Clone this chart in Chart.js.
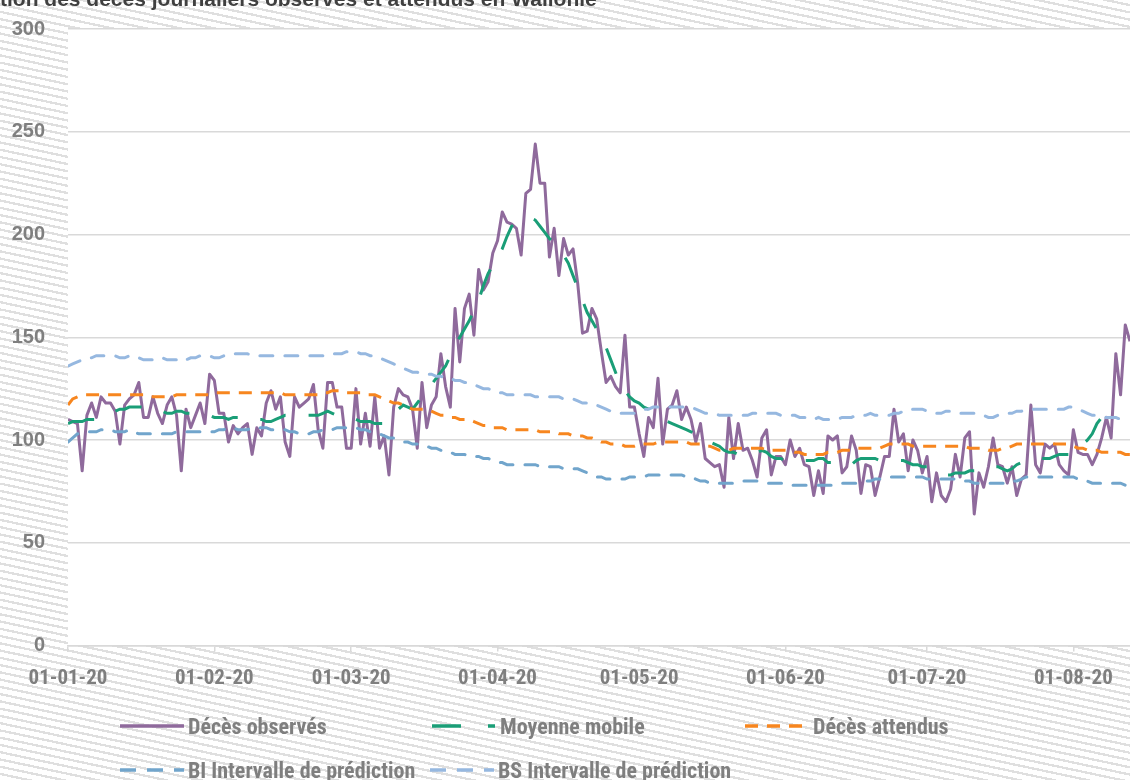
<!DOCTYPE html>
<html lang="fr">
<head>
<meta charset="utf-8">
<title>Décès journaliers observés et attendus en Wallonie</title>
<script src="https://cdn.jsdelivr.net/npm/chart.js@4.4.1/dist/chart.umd.min.js"></script>
<style>
  html, body { margin: 0; padding: 0; }
  body {
    width: 1130px; height: 780px; overflow: hidden; position: relative;
    background: repeating-linear-gradient(12deg, #fff 0px, #fff 4.8px, #dfdfdf 4.8px, #dfdfdf 7.1px);
  }
  #chart { position: absolute; left: 0; top: 0; }
  .title {
    position: absolute; left: 0; top: -13px; white-space: nowrap;
    font: bold 21px 'Liberation Sans', Arial, sans-serif; color: #404040;
  }
  .leg {
    position: absolute; display: flex; align-items: center; white-space: nowrap;
    font-family: Roboto, sans-serif; font-weight: bold; font-stretch: condensed; font-size: 22px;
    color: #7f7f7f;
  }
  .leg svg { margin-right: 4px; }
</style>
</head>
<body>
<canvas id="chart" width="1130" height="780"></canvas>
<div class="title">tion des décès journaliers observés et attendus en Wallonie</div>
<div id="legend"></div>
<script>
// x ticks: day index (0 = 01-01-20) of each month start
const monthStarts = [0, 31, 60, 91, 121, 152, 182, 213];
const monthLabels = ['01-01-20', '01-02-20', '01-03-20', '01-04-20', '01-05-20', '01-06-20', '01-07-20', '01-08-20'];

// Décès observés, one value per day from 01-01-20
const observed = [
  110,109,108,85,112,118,111,121,118,118,
  114,98,117,120,122,128,111,111,121,113,
  108,117,121,112,85,115,106,112,118,108,
  132,129,113,113,99,107,103,106,108,93,
  106,102,118,124,115,121,99,92,121,116,
  118,120,127,105,96,128,128,116,116,96,
  96,125,98,113,97,121,96,102,83,116,
  125,122,121,115,96,128,106,117,121,142,
  126,116,164,138,164,171,151,183,173,177,
  191,197,211,206,205,203,190,220,222,244,
  225,225,189,203,180,198,190,193,176,152,
  153,164,159,143,128,131,126,123,151,116,
  116,103,92,111,106,130,98,115,117,124,
  110,116,110,99,108,91,89,87,88,77,
  111,91,108,95,96,90,82,101,105,83,
  92,92,88,100,92,96,88,87,73,85,
  74,102,100,102,84,87,102,95,74,88,
  87,73,82,92,92,115,99,103,85,100,
  95,84,92,70,84,73,70,76,93,82,
  101,104,64,84,77,87,101,88,87,79,
  87,73,81,83,117,88,84,98,96,98,
  88,85,83,105,94,93,93,88,93,101,
  111,101,142,122,156,148
];

// Moyenne mobile
const movingAvg = [
  108,109,109,109,110,110,110,111,112,113,
  114,115,115,116,116,116,116,115,115,114,
  114,113,113,114,114,113,113,113,112,112,
  112,111,111,111,110,111,111,111,111,110,
  110,110,109,109,110,111,112,112,112,112,
  112,112,112,112,113,114,113,112,112,111,
  110,110,109,109,109,108,108,108,111,113,
  115,117,116,115,118,121,124,127,130,133,
  136,141,146,150,154,158,163,168,175,181,
  185,189,193,199,204,206,207,208,208,207,
  204,201,198,196,194,190,186,180,174,168,
  162,158,154,150,145,139,133,127,124,121,
  119,118,116,115,114,113,111,109,108,107,
  106,105,104,103,102,101,99,98,97,95,
  94,94,93,93,93,93,94,95,94,92,
  91,91,90,90,90,90,90,90,90,91,
  91,89,89,88,88,88,88,90,91,91,
  91,91,90,90,90,90,90,90,89,88,
  88,87,87,86,85,84,83,83,84,84,
  84,85,85,85,86,86,87,87,86,85,
  86,88,89,89,90,90,91,91,91,92,
  93,93,93,93,95,98,100,103,108,111,
  114
];

// Décès attendus
const expected = [
  117,120,121,122,122,122,122,122,122,122,
  122,122,122,122,122,122,122,121,121,121,
  121,121,121,122,122,122,122,122,122,122,
  122,123,123,123,123,123,123,123,123,123,
  123,123,123,123,123,123,122,122,122,122,
  122,122,122,122,123,123,124,124,124,123,
  123,123,123,122,122,122,121,120,119,118,
  118,117,116,115,115,115,115,114,113,112,
  112,111,111,110,110,110,109,108,107,107,
  106,106,106,105,105,105,105,105,105,105,
  104,104,104,104,103,103,103,102,102,102,
  101,101,100,99,99,98,98,98,97,97,
  97,98,98,98,98,99,99,99,99,99,
  99,99,98,98,98,97,97,96,95,95,
  95,96,96,96,96,96,96,96,95,95,
  95,95,95,95,94,94,93,93,93,93,
  93,94,94,94,95,95,95,96,96,96,
  96,96,96,97,98,98,98,98,98,97,
  97,97,97,97,97,97,97,97,97,97,
  97,96,96,96,96,95,95,95,96,96,
  97,98,98,98,98,98,98,98,98,98,
  98,98,98,97,96,96,95,95,95,94,
  94,94,94,94,93,93
];

// BI Intervalle de prédiction (borne inférieure)
const lowerBound = [
  99,101,103,103,104,104,104,105,105,105,
  104,104,104,105,104,103,103,103,103,103,
  103,103,103,104,104,104,104,104,104,104,
  104,104,105,105,106,106,105,105,105,106,
  106,106,106,105,105,105,105,104,104,103,
  103,103,104,104,105,105,105,106,106,106,
  106,106,105,105,104,103,103,102,101,101,
  100,99,99,98,98,97,97,96,96,95,
  94,94,93,93,93,92,92,92,91,91,
  90,89,89,88,88,88,88,88,88,88,
  87,87,87,87,87,86,86,86,86,85,
  84,83,82,82,81,81,81,81,81,82,
  82,82,82,83,83,83,83,83,83,83,
  83,82,82,81,80,80,79,79,79,79,
  79,79,79,80,80,80,80,80,79,79,
  79,79,79,78,78,78,78,78,78,78,
  78,78,78,78,79,79,79,79,80,80,
  80,81,81,81,82,82,82,82,82,82,
  82,82,81,81,81,81,81,81,81,80,
  80,80,79,79,79,79,79,79,79,79,
  80,80,81,82,82,82,82,82,82,82,
  82,82,82,82,81,81,80,79,79,79,
  79,79,79,79,78,78
];

// BS Intervalle de prédiction (borne supérieure)
const upperBound = [
  136,137,138,139,140,140,141,141,141,141,
  141,140,140,141,140,140,139,139,139,139,
  140,139,139,139,138,139,140,140,141,141,
  141,140,140,141,141,142,142,142,142,141,
  141,141,141,141,141,141,141,141,141,141,
  141,141,141,141,141,141,142,142,142,143,
  143,143,142,142,141,141,140,139,138,137,
  136,135,134,133,133,132,132,132,131,131,
  130,130,129,129,128,128,127,126,125,125,
  124,123,123,122,122,122,122,122,122,121,
  121,121,121,121,121,120,120,120,119,118,
  118,117,117,116,115,114,113,113,113,113,
  113,114,115,115,116,116,116,116,116,116,
  116,116,116,115,114,113,113,113,112,112,
  112,112,112,112,112,113,113,113,113,113,
  113,112,112,112,112,111,111,111,110,111,
  110,110,110,110,111,111,111,112,112,112,
  113,112,112,112,112,113,113,114,114,115,
  115,115,114,114,113,113,114,114,113,113,
  113,113,113,113,112,111,111,112,112,113,
  113,114,114,115,115,115,115,115,115,115,
  115,115,116,116,115,114,113,112,112,111,
  111,111,111,110,110,110
];

const toPoints = arr => arr.map((v, i) => ({ x: i, y: v }));

const plotBackground = {
  id: 'plotBackground',
  beforeDraw(chart) {
    const { ctx, chartArea } = chart;
    ctx.save();
    ctx.fillStyle = '#ffffff';
    ctx.fillRect(chartArea.left, chartArea.top, chartArea.right - chartArea.left, chartArea.bottom - chartArea.top);
    ctx.restore();
  }
};

const ctx = document.getElementById('chart').getContext('2d');
const chart = new Chart(ctx, {
  type: 'line',
  data: {
    datasets: [
      { label: 'Décès observés', data: toPoints(observed), borderColor: '#8f6a9c', borderWidth: 3, order: 5, borderJoinStyle: 'round' },
      { label: 'Moyenne mobile', data: toPoints(movingAvg), borderColor: '#1a9e77', borderWidth: 3, borderDash: [27, 23], order: 4 },
      { label: 'Décès attendus', data: toPoints(expected), borderColor: '#f7861f', borderWidth: 3, borderDash: [13, 9], order: 3 },
      { label: 'BI Intervalle de prédiction', data: toPoints(lowerBound), borderColor: '#71a5cc', borderWidth: 3, borderDash: [13, 12], borderCapStyle: 'round', order: 2 },
      { label: 'BS Intervalle de prédiction', data: toPoints(upperBound), borderColor: '#96b8e0', borderWidth: 3, borderDash: [13, 12], borderCapStyle: 'round', order: 1 }
    ]
  },
  options: {
    responsive: false,
    animation: false,
    events: [],
    elements: { point: { radius: 0 }, line: { tension: 0, fill: false } },
    layout: { padding: { top: 29, left: 0, right: 0, bottom: 0 } },
    plugins: { legend: { display: false }, tooltip: { enabled: false } },
    scales: {
      x: {
        type: 'linear',
        min: 0,
        max: 225,
        afterBuildTicks: scale => { scale.ticks = monthStarts.map(v => ({ value: v })); },
        afterFit: scale => { scale.height = 134.5; },
        ticks: {
          autoSkip: false,
          maxRotation: 0,
          padding: 15,
          color: '#7f7f7f',
          // font-stretch goes through the weight slot of the canvas font string
          font: { family: 'Roboto, sans-serif', size: 21, weight: 'bold condensed' },
          callback: v => monthLabels[monthStarts.indexOf(v)]
        },
        grid: { drawOnChartArea: false, drawTicks: true, tickLength: 6, color: '#d9d9d9', lineWidth: 1.5 },
        border: { display: true, color: '#d9d9d9', width: 1.5 }
      },
      y: {
        min: 0,
        max: 300,
        afterFit: scale => { scale.width = 68; },
        ticks: {
          stepSize: 50,
          padding: 3,
          color: '#7f7f7f',
          font: { family: "'Liberation Sans', Arial, sans-serif", size: 20, weight: 'bold' }
        },
        // invisible ticks give the label gap without adding vertical padding
        grid: { color: '#d9d9d9', lineWidth: 1.5, drawTicks: true, tickLength: 20, tickColor: 'rgba(0,0,0,0)' },
        border: { display: false }
      }
    }
  },
  plugins: [plotBackground]
});

// Legend in the Excel layout: two rows, fixed columns
const legendItems = [
  { label: 'Décès observés', color: '#8f6a9c', dash: '', left: 120, top: 726 },
  { label: 'Moyenne mobile', color: '#1a9e77', dash: '29 27 7 20', left: 432, top: 726 },
  { label: 'Décès attendus', color: '#f7861f', dash: '13 9', left: 745, top: 726 },
  { label: 'BI Intervalle de prédiction', color: '#71a5cc', dash: '16 11', left: 120, top: 770 },
  { label: 'BS Intervalle de prédiction', color: '#96b8e0', dash: '16 11', left: 430, top: 770 }
];
const legendBox = document.getElementById('legend');
legendItems.forEach(item => {
  const div = document.createElement('div');
  div.className = 'leg';
  div.style.left = item.left + 'px';
  div.style.top = (item.top - 15) + 'px';
  div.style.height = '30px';
  div.innerHTML =
    '<svg width="64" height="8"><line x1="0" y1="4" x2="64" y2="4" stroke="' + item.color +
    '" stroke-width="3.5"' + (item.dash ? ' stroke-dasharray="' + item.dash + '"' : '') + '/></svg>' +
    '<span>' + item.label + '</span>';
  legendBox.appendChild(div);
});
</script>
</body>
</html>
